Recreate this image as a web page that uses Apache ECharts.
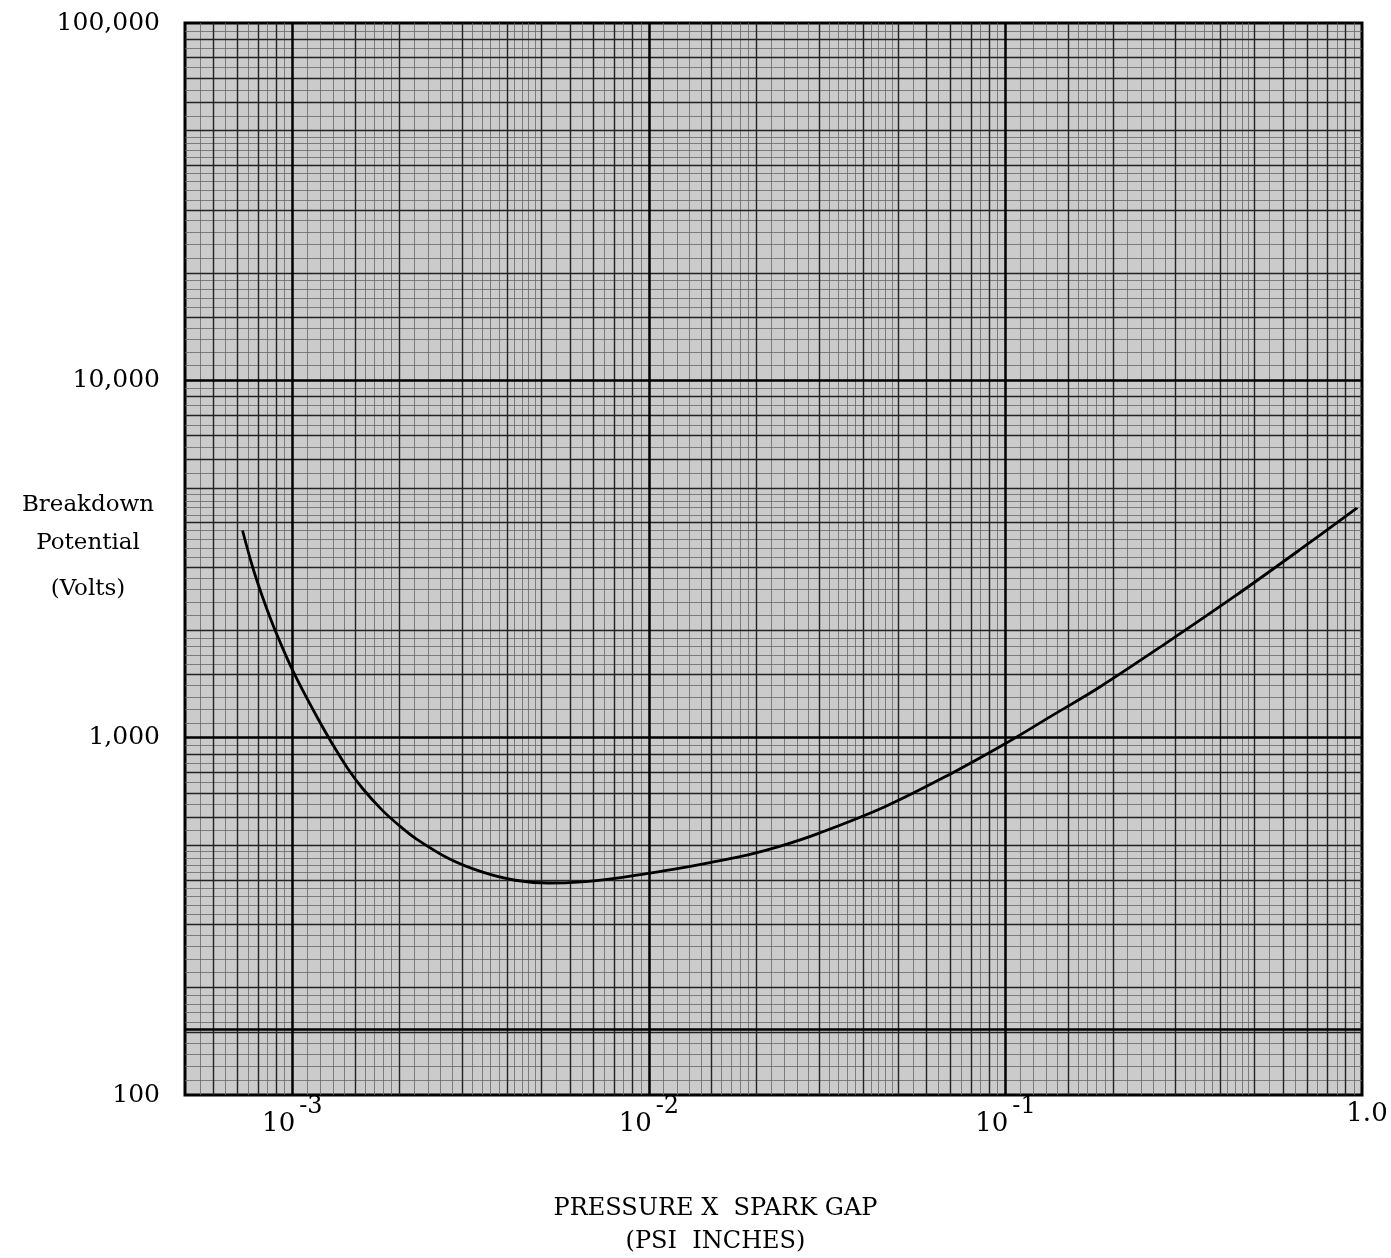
<!DOCTYPE html>
<html>
<head>
<meta charset="utf-8">
<script src="https://cdn.jsdelivr.net/npm/echarts@6/dist/echarts.min.js"></script>
<style>
  html, body { margin: 0; padding: 0; background: #ffffff; }
  #chart { width: 1391px; height: 1258px; }
</style>
</head>
<body>
<div id="chart"></div>
<script>
// ---- Data (log-log) ----
const pressureGap = [7.25e-4, 7.73e-4, 8.24e-4, 8.79e-4, 9.38e-4, 1.0e-3, 1.067e-3, 1.175e-3, 1.294e-3, 1.425e-3,
                     1.57e-3, 1.786e-3, 1.993e-3, 2.214e-3, 2.745e-3, 3.402e-3, 4.217e-3, 5.23e-3, 6.48e-3, 8.03e-3,
                     9.96e-3, 1.235e-2, 1.53e-2, 1.897e-2, 2.351e-2, 2.979e-2, 4.575e-2, 7.035e-2, 9.917e-2, 0.134,
                     0.1849, 0.2843, 0.4367, 0.6711, 0.9669];
const breakdownVolts = [3800, 3013, 2483, 2086, 1787, 1550, 1363, 1139, 962, 824,
                        723, 627, 568, 523, 459, 421, 399, 392, 395, 404,
                        417, 432, 450, 470, 498, 539, 640, 793, 958, 1147,
                        1391, 1848, 2476, 3363, 4391];
const xTickLabels = { '-3': '{b|10}{s|-3}', '-2': '{b|10}{s|-2}', '-1': '{b|10}{s|-1}', '0': '{c|1.0}' };
const yTickLabels = { '2': '100', '3': '1,000', '4': '10,000', '5': '100,000' };
const xName = 'PRESSURE X  SPARK GAP\n(PSI  INCHES)';
const yNameLines = ['Breakdown', 'Potential', '(Volts)'];
const artifactLevel = 153; // dark horizontal line across the sheet

// ---- graph-paper rulings (styling only) ----
function rulings(lo, hi) {
  const fine = [], main = [], major = [];
  const steps = [];
  for (let k = 10; k < 20; k += 1) steps.push(k);
  for (let k = 20; k < 50; k += 2) steps.push(k);
  for (let k = 50; k < 100; k += 5) steps.push(k);
  for (let e = -6; e <= 6; e++) {
    steps.forEach(function (k) {
      const v = parseFloat(((k / 10) * Math.pow(10, e)).toPrecision(6));
      if (v <= lo * 1.0001 || v >= hi * 0.9999) return;
      if (k === 10) major.push(v);
      else if (k % 10 === 0 || k === 15) main.push(v);
      else fine.push(v);
    });
  }
  return { fine: fine, main: main, major: major };
}
const xR = rulings(5e-4, 1);
const yR = rulings(100, 100000);

function gridSeries(xs, ys, color, width, z) {
  const d = [];
  xs.forEach(function (v) { d.push({ xAxis: v }); });
  ys.forEach(function (v) { d.push({ yAxis: v }); });
  return {
    type: 'line', data: [], z: z, silent: true, showSymbol: false,
    markLine: {
      silent: true, animation: false, symbol: ['none', 'none'], precision: 10,
      label: { show: false },
      lineStyle: { color: color, width: width, type: 'solid', opacity: 1 },
      emphasis: { disabled: true },
      data: d
    }
  };
}

const serif = '"DejaVu Serif", "Liberation Serif", serif';
const chart = echarts.init(document.getElementById('chart'), null, { renderer: 'canvas' });

function isPow10(v) {
  const l = Math.log10(v);
  return Math.abs(l - Math.round(l)) < 1e-6 ? String(Math.round(l)) : null;
}

chart.setOption({
  backgroundColor: '#ffffff',
  animation: false,
  grid: {
    left: 185, right: 29, top: 23, bottom: 163, containLabel: false, outerBoundsMode: 'none',
    show: true, backgroundColor: '#cbcbcb', borderColor: '#000000', borderWidth: 3
  },
  xAxis: {
    type: 'log', logBase: 10, min: 5e-4, max: 1,
    name: xName, nameLocation: 'middle', nameGap: 97, nameMoveOverlap: false,
    nameTextStyle: { fontFamily: serif, fontSize: 24, color: '#000', lineHeight: 33, align: 'center', padding: [0, 116, 0, 0] },
    axisLine: { show: false }, axisTick: { show: false }, splitLine: { show: false },
    axisLabel: {
      margin: 0, showMinLabel: true, showMaxLabel: true, interval: 0, hideOverlap: false,
      color: '#000', fontFamily: serif,
      formatter: function (v) { const e = isPow10(v); return e !== null && xTickLabels[e] ? xTickLabels[e] : ''; },
      rich: {
        b: { fontFamily: serif, fontSize: 26, color: '#000', lineHeight: 42, verticalAlign: 'bottom', padding: [0, 4, 0, 0] },
        s: { fontFamily: serif, fontSize: 24, color: '#000', verticalAlign: 'top' },
        c: { fontFamily: serif, fontSize: 26, color: '#000', lineHeight: 38, verticalAlign: 'middle', padding: [0, 0, 0, 10] }
      }
    }
  },
  yAxis: {
    type: 'log', logBase: 10, min: 100, max: 100000,
    name: '{a|' + yNameLines[0] + '}\n{a|' + yNameLines[1] + '}\n{c|' + yNameLines[2] + '}\n{e| }',
    nameLocation: 'middle', nameGap: 97, nameRotate: 0, nameMoveOverlap: false,
    nameTextStyle: {
      fontFamily: serif, fontSize: 23, color: '#000', align: 'center', verticalAlign: 'middle',
      rich: {
        a: { fontFamily: serif, fontSize: 23, color: '#000', lineHeight: 38, align: 'center' },
        c: { fontFamily: serif, fontSize: 23, color: '#000', lineHeight: 54, align: 'center' },
        e: { fontSize: 10, lineHeight: 16, align: 'center' }
      }
    },
    axisLine: { show: false }, axisTick: { show: false }, splitLine: { show: false },
    axisLabel: {
      margin: 25, color: '#000', fontFamily: serif, fontSize: 25,
      showMinLabel: true, showMaxLabel: true, hideOverlap: false,
      formatter: function (v) { const e = isPow10(v); return e !== null && yTickLabels[e] ? yTickLabels[e] : ''; }
    }
  },
  series: [
    gridSeries(xR.fine, yR.fine, '#666666', 0.8, 1),
    gridSeries(xR.main, yR.main, '#222222', 1.4, 2),
    gridSeries(xR.major, yR.major, '#000000', 2.5, 3),
    {
      type: 'line', data: [], z: 3, silent: true,
      markLine: {
        silent: true, animation: false, symbol: ['none', 'none'], precision: 10, label: { show: false },
        lineStyle: { color: '#000', width: 2.5, type: 'solid' },
        data: [{ yAxis: artifactLevel }]
      }
    },
    {
      name: 'Breakdown Potential', type: 'line', z: 10,
      data: pressureGap.map(function (x, i) { return [x, breakdownVolts[i]]; }),
      smooth: 0.35, showSymbol: false, symbol: 'none',
      lineStyle: { color: '#000000', width: 2.8 }
    }
  ]
});
</script>
</body>
</html>
